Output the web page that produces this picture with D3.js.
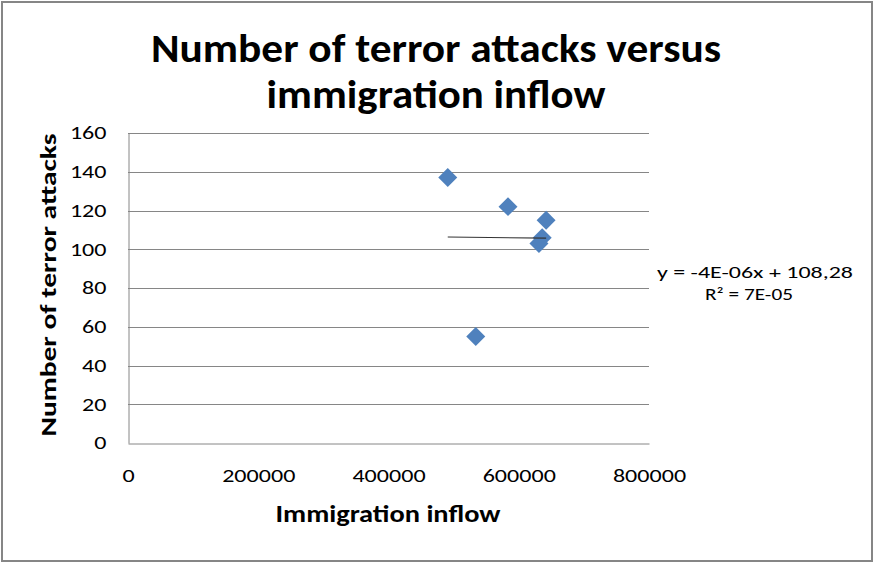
<!DOCTYPE html>
<html>
<head>
<meta charset="utf-8">
<script src="https://cdn.jsdelivr.net/npm/d3@7"></script>
<style>
  html, body { margin: 0; padding: 0; background: #fff; }
  svg { display: block; }
  text { font-family: Carlito, Calibri, Lato, "Open Sans", sans-serif; fill: #000; }
</style>
</head>
<body>
<script>
// Immigration inflow (persons) and number of terror attacks per observation
const immigration = [491000, 583500, 642000, 636000, 631000, 534000];
const attacks = [137, 122, 115, 106, 103, 55];

// Linear trendline as reported on the chart
const trendSlope = -4e-6;
const trendIntercept = 108.28;
const trendLabel = ["y = -4E-06x + 108,28", "R² = 7E-05"];

const xTicks = [0, 200000, 400000, 600000, 800000];
const yTicks = [0, 20, 40, 60, 80, 100, 120, 140, 160];

const titleLines = ["Number of terror attacks versus", "immigration inflow"];
const xTitle = "Immigration inflow";
const yTitle = "Number of terror attacks";

const W = 874, H = 563;
const plot = { left: 128, right: 649, top: 133, bottom: 443 };
const digitWidth = 12.2;

const svg = d3.select("body").append("svg").attr("width", W).attr("height", H);

// chart frame
svg.append("rect")
  .attr("x", 2).attr("y", 2).attr("width", W - 4).attr("height", H - 4)
  .attr("fill", "#fff").attr("stroke", "#868686").attr("stroke-width", 2);

const x = d3.scaleLinear().domain([0, 800000]).range([plot.left, plot.right]);
const y = d3.scaleLinear().domain([0, 160]).range([plot.bottom, plot.top]);

// horizontal gridlines
svg.append("g").selectAll("line").data(yTicks.filter(d => d > 0)).join("line")
  .attr("x1", plot.left).attr("x2", plot.right)
  .attr("y1", d => Math.round(y(d)) + 0.5).attr("y2", d => Math.round(y(d)) + 0.5)
  .attr("stroke", "#868686").attr("stroke-width", 1);

// axes
const yAxis = svg.append("g").attr("transform", `translate(${plot.left + 0.5},0)`)
  .call(d3.axisLeft(y).tickValues(yTicks).tickSize(0).tickPadding(22));
const xAxis = svg.append("g").attr("transform", `translate(0,${plot.bottom + 0.5})`)
  .call(d3.axisBottom(x).tickValues(xTicks).tickSize(0).tickPadding(25).tickFormat(d3.format("d")));
[xAxis, yAxis].forEach(g => {
  g.select(".domain").attr("stroke", "#868686").attr("stroke-width", 1);
  g.selectAll("text").style("font-size", "18.5px").attr("fill", "#000")
    .attr("lengthAdjust", "spacingAndGlyphs")
    .attr("textLength", function () { return this.textContent.length * digitWidth; });
});

// data markers
svg.append("g").selectAll("path").data(immigration.map((v, i) => [v, attacks[i]])).join("path")
  .attr("d", d3.symbol(d3.symbolSquare, 180))
  .attr("transform", d => `translate(${x(d[0])},${y(d[1])}) rotate(45)`)
  .attr("fill", "#4F81BD");

// trendline across the data range
const xMin = d3.min(immigration), xMax = d3.max(immigration);
svg.append("line")
  .attr("x1", x(xMin)).attr("y1", y(trendSlope * xMin + trendIntercept))
  .attr("x2", x(xMax)).attr("y2", y(trendSlope * xMax + trendIntercept))
  .attr("stroke", "#333").attr("stroke-width", 1.2);

// trendline equation
const eqWidths = [196, 88];
const eqCenters = [755, 749];
svg.append("g").selectAll("text").data(trendLabel).join("text")
  .attr("x", (d, i) => eqCenters[i]).attr("y", (d, i) => 278 + i * 22)
  .attr("text-anchor", "middle").style("font-size", "16.5px")
  .attr("lengthAdjust", "spacingAndGlyphs")
  .attr("textLength", (d, i) => eqWidths[i])
  .text(d => d);

// titles
const titleWidths = [570, 339];
svg.append("g").selectAll("text").data(titleLines).join("text")
  .attr("x", 436).attr("y", (d, i) => 62 + i * 46)
  .attr("text-anchor", "middle").style("font-size", "40px").style("font-weight", "bold")
  .attr("lengthAdjust", "spacingAndGlyphs")
  .attr("textLength", (d, i) => titleWidths[i])
  .text(d => d);

svg.append("text").attr("x", 388).attr("y", 522)
  .attr("text-anchor", "middle").style("font-size", "24px").style("font-weight", "bold")
  .attr("lengthAdjust", "spacingAndGlyphs").attr("textLength", 225)
  .text(xTitle);

svg.append("text").attr("transform", "translate(56,285) rotate(-90)")
  .attr("text-anchor", "middle").style("font-size", "23px").style("font-weight", "bold")
  .attr("lengthAdjust", "spacingAndGlyphs").attr("textLength", 303)
  .text(yTitle);
</script>
</body>
</html>
